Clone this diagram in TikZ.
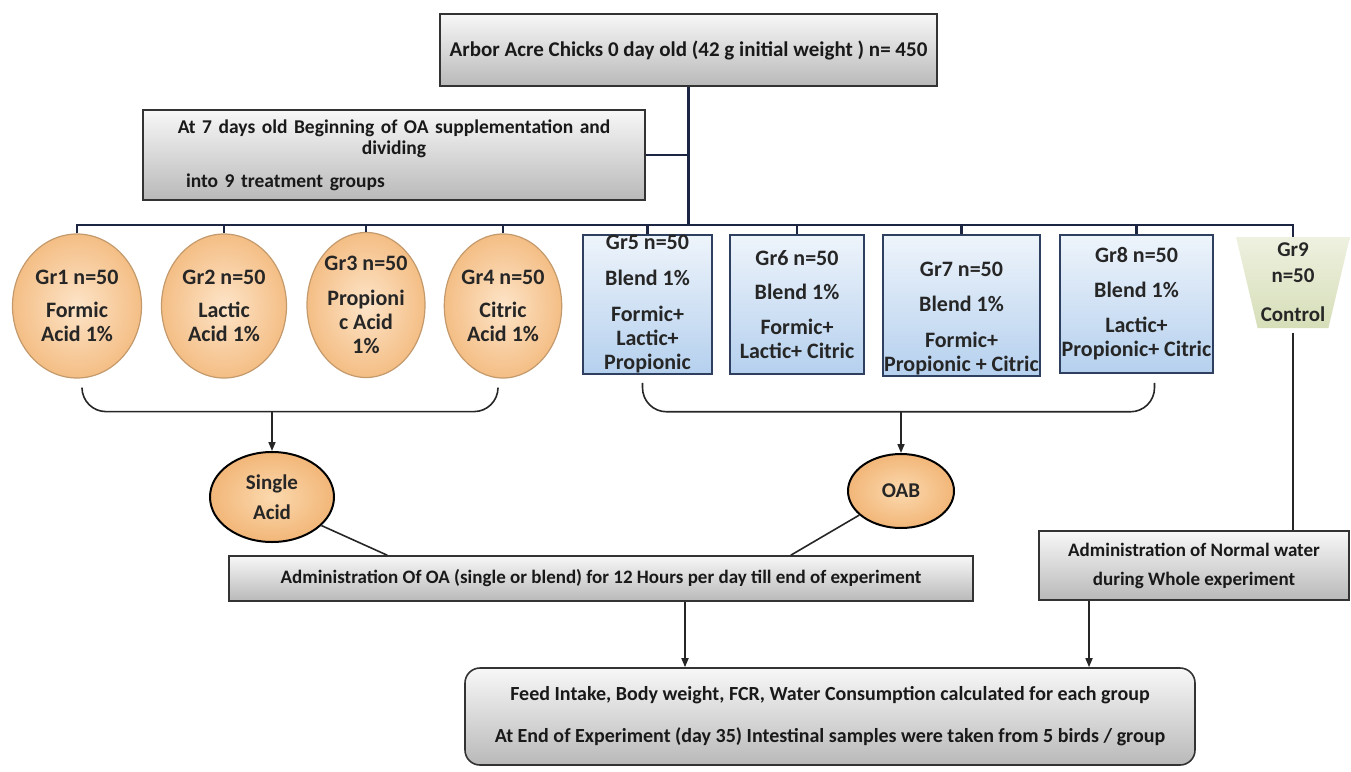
\documentclass[tikz,border=0pt]{standalone}
\usepackage{fontspec}
\setmainfont{Carlito}
\usepackage{tikz}
\usetikzlibrary{positioning,arrows.meta,shapes.geometric}

\definecolor{busblue}{HTML}{1C2541}
\definecolor{acidin}{HTML}{FDE4C8}
\definecolor{acidout}{HTML}{F4BE85}
\definecolor{acidline}{HTML}{C49A6C}
\definecolor{pickin}{HTML}{FBD9AE}
\definecolor{pickout}{HTML}{F2B678}
\definecolor{blendtop}{HTML}{EEF4FB}
\definecolor{blendbot}{HTML}{B5D0EE}
\definecolor{blendline}{HTML}{2E3F5F}
\definecolor{ctrltop}{HTML}{EEF1E0}
\definecolor{ctrlbot}{HTML}{D6DEB8}

\begin{document}
\begin{tikzpicture}[x=1pt,y=-1pt, >={Triangle[length=9pt,width=7pt]},
  gbox/.style={draw=black!80,line width=1.6pt,top color=gray!6,bottom color=gray!55,align=center,inner sep=0pt,text=black!90,font=\bfseries\fontsize{21}{24}\selectfont},
  acid/.style={ellipse,draw=acidline,line width=1.2pt,inner color=acidin,outer color=acidout,minimum width=124pt,minimum height=144pt,inner sep=0pt,align=center,text=black!85,font=\bfseries\fontsize{22}{24}\selectfont},
  blend/.style={draw=blendline,line width=1.5pt,top color=blendtop,bottom color=blendbot,minimum height=139pt,inner sep=0pt,align=center,text=black!85,font=\bfseries\fontsize{22}{24}\selectfont},
  ctrl/.style={trapezium,shape border rotate=180,trapezium stretches=true,trapezium left angle=76,trapezium right angle=76,minimum width=114pt,minimum height=91pt,inner sep=1pt,top color=ctrltop,bottom color=ctrlbot,align=center,text=black!85,font=\bfseries\fontsize{21}{24}\selectfont},
  pick/.style={ellipse,draw=black,line width=2pt,inner color=pickin,outer color=pickout,inner sep=0pt,align=center,text=black!85,font=\bfseries\fontsize{21}{24}\selectfont},
  bus/.style={draw=busblue,line width=2.2pt},
  link/.style={draw=black!85,line width=1.6pt},
  brace/.style={link,rounded corners=24pt}]
\useasboundingbox (0,0) rectangle (1351,771);

% start and split into groups
\node[gbox,minimum width=497pt,minimum height=72pt] (top) at (688.5,50) {Arbor Acre Chicks 0 day old (42 g initial weight ) n= 450};
\node[gbox,minimum width=502pt,minimum height=90pt,text width=470pt,font=\bfseries\fontsize{19.5}{21}\selectfont] (oa) at (394,155) {At 7 days old Beginning of OA supplementation and\\ dividing\\[12pt] \makebox[470pt][l]{\hspace{27pt}into 9 treatment groups}};
\coordinate (split) at (77,225);

% single acids
\node[acid,minimum width=129pt] (g1) at (77,306) {Gr1 n=50\\[9pt] Formic\\ Acid 1\%};
\node[acid,minimum width=125pt] (g2) at (224,306) {Gr2 n=50\\[9pt] Lactic\\ Acid 1\%};
\node[acid,minimum width=118pt,minimum height=145pt] (g3) at (366,305) {Gr3 n=50\\[11pt] Propioni\\ c Acid\\ 1\%};
\node[acid,minimum width=117pt] (g4) at (503,306) {Gr4 n=50\\[9pt] Citric\\ Acid 1\%};

% blends
\node[blend,minimum width=129pt] (g5) at (647.5,304.5) {Gr5 n=50\\[12pt] Blend 1\%\\[12pt] Formic+\\ Lactic+\\ Propionic};
\node[blend,minimum width=134pt] (g6) at (797,304.5) {Gr6 n=50\\[10pt] Blend 1\%\\[11pt] Formic+\\ Lactic+ Citric};
\node[blend,minimum width=157pt,minimum height=141pt] (g7) at (961.5,305.5) {\mbox{}\\[17pt] Gr7 n=50\\[11pt] Blend 1\%\\[12pt] Formic+\\ Propionic + Citric};
\node[blend,minimum width=153pt,minimum height=138pt] (g8) at (1136.5,304) {Gr8 n=50\\[11pt] Blend 1\%\\[11pt] Lactic+\\ Propionic+ Citric};

% control
\node[ctrl] (g9) at (1293,282.5) {Gr9\\[2pt] n=50\\[15pt] Control};

\draw[bus] (top.south) -- (top.south |- split);
\draw[bus] (oa.east) -- (oa.east -| top.south);
\draw[bus] (g1.north) -- (split) -- (split -| g9.center) -- ([yshift=45.5pt]g9.center);
\foreach \g in {g2,g3,g4,g5,g6,g7,g8}
  \draw[bus] (\g.north |- split) -- (\g.north);

% collecting braces
\node[pick,minimum width=124pt,minimum height=90pt] (sa) at (272,497) {Single\\[6pt] Acid};
\node[pick,minimum width=106pt,minimum height=74pt] (oab) at (901,491) {OAB};
\draw[brace] ([xshift=5pt,yshift=-10pt]g1.south) -- ++(0,-23pt) coordinate (br1) -| ([xshift=-5pt,yshift=-10pt]g4.south);
\draw[->,link] (sa.north |- br1) -- (sa.north);
\draw[brace] ([xshift=-5pt,yshift=-8pt]g5.south) -- ++(0,-29pt) coordinate (br2) -| ([xshift=18pt,yshift=-9pt]g8.south);
\draw[->,link] (oab.north |- br2) -- (oab.north);

% administration
\node[gbox,minimum width=744pt,minimum height=45pt,font=\bfseries\fontsize{19}{22}\selectfont] (adm) at (601,578.5) {Administration Of OA (single or blend) for 12 Hours per day till end of experiment};
\node[gbox,minimum width=310pt,minimum height=69pt,font=\bfseries\fontsize{19}{22}\selectfont] (nw) at (1194,565.5) {Administration of Normal water\\[7pt] during Whole experiment};
\draw[link] (sa.-30) -- ([xshift=159pt]adm.north west);
\draw[link] (oab.-150) -- ([xshift=-183pt]adm.north east);
\draw[link] ([yshift=-50pt]g9.center) -- (g9.center |- nw.north);

% measurements
\node[gbox,rounded corners=15pt,minimum width=730pt,minimum height=97pt,font=\bfseries\fontsize{20}{22}\selectfont] (res) at (830,716.5) {Feed Intake, Body weight, FCR, Water Consumption calculated for each group\\[20pt] At End of Experiment (day 35) Intestinal samples were taken from 5 birds / group};
\draw[->,link] ([xshift=84pt]adm.south) -- ([xshift=84pt]adm.south |- res.north);
\draw[->,link] ([xshift=-105pt]nw.south) -- ([xshift=-105pt]nw.south |- res.north);
\end{tikzpicture}
\end{document}
